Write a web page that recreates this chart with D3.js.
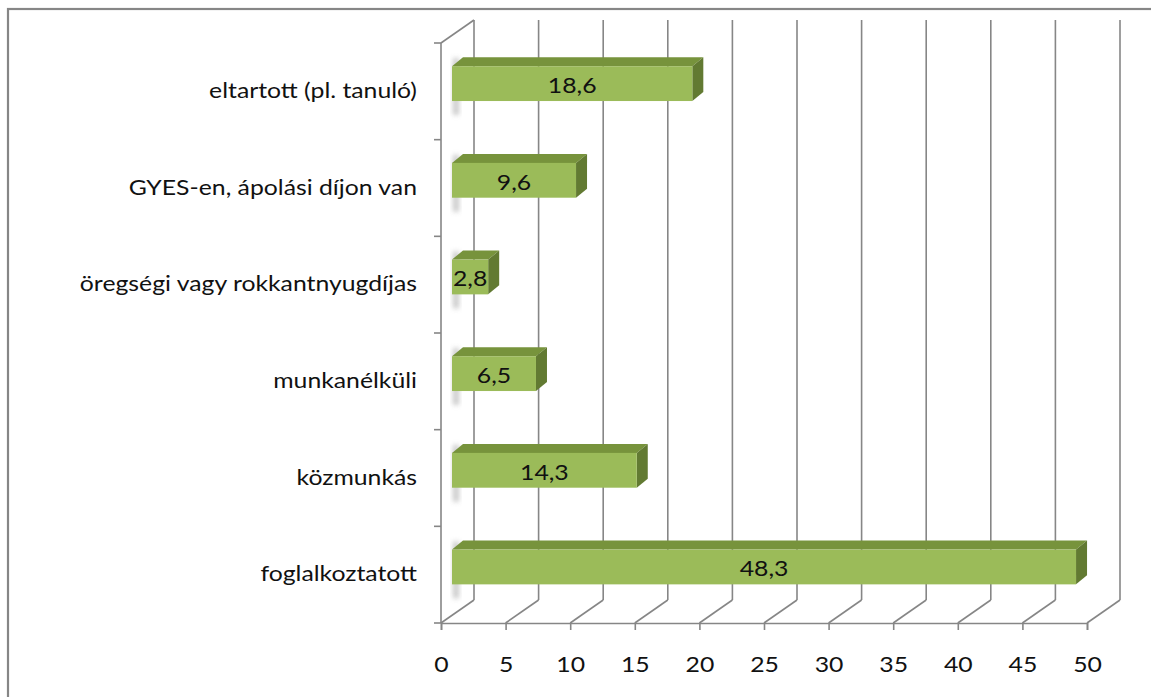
<!DOCTYPE html>
<html><head><meta charset="utf-8">
<script src="https://cdn.jsdelivr.net/npm/d3@7"></script>
<style>body{margin:0;background:#fff}svg{display:block}</style>
</head><body>
<script>
const categories = ["eltartott (pl. tanuló)","GYES-en, ápolási díjon van","öregségi vagy rokkantnyugdíjas","munkanélküli","közmunkás","foglalkoztatott"];
const values = [18.6, 9.6, 2.8, 6.5, 14.3, 48.3];
const valueLabels = ["18,6","9,6","2,8","6,5","14,3","48,3"];
const xTicks = [0,5,10,15,20,25,30,35,40,45,50];

const W=1151,H=697;
const svg=d3.select("body").append("svg").attr("width",W).attr("height",H);
const FONT="Lato, 'Open Sans', sans-serif";
const FS=21, SX="scale(1.18,1)";
const gray="#868686";
const TOP=43, BOT=623;

// border
svg.append("rect").attr("x",8).attr("y",9).attr("width",1160).attr("height",700)
  .attr("fill","#fff").attr("stroke",gray).attr("stroke-width",2.2);

const x=d3.scaleLinear().domain([0,50]).range([441,1087]);
const y=d3.scaleBand().domain(categories).range([TOP,BOT]).paddingInner(0.64).paddingOuter(0.32);
const DX=33, DY=-23;           // full depth offset
const bdx=11, bdy=-7.7;        // bar front offset (1/3 depth)
const sdx=11, sdy=-9;          // bar depth

const defs=svg.append("defs");
const f=defs.append("filter").attr("id","blur").attr("x","-50%").attr("y","-50%").attr("width","200%").attr("height","200%");
f.append("feGaussianBlur").attr("stdDeviation",2.5);

// back wall gridlines
svg.append("g").selectAll("line").data(xTicks).join("line")
  .attr("x1",d=>x(d)+DX).attr("x2",d=>x(d)+DX).attr("y1",TOP+DY).attr("y2",BOT+DY)
  .attr("stroke",gray).attr("stroke-width",1.6);
// floor diagonals
svg.append("g").selectAll("line").data(xTicks).join("line")
  .attr("x1",d=>x(d)).attr("x2",d=>x(d)+DX).attr("y1",BOT).attr("y2",BOT+DY)
  .attr("stroke",gray).attr("stroke-width",1.6);
// left wall top diagonal
svg.append("line").attr("x1",x(0)).attr("y1",TOP).attr("x2",x(0)+DX).attr("y2",TOP+DY)
  .attr("stroke",gray).attr("stroke-width",1.6);

// left axis line and boundary ticks
svg.append("line").attr("x1",x(0)).attr("x2",x(0)).attr("y1",TOP).attr("y2",BOT).attr("stroke",gray).attr("stroke-width",1.6);
const bounds=categories.map(c=>y(c)-y.step()*y.paddingInner()/2).concat([BOT]);
svg.append("g").selectAll("line").data(bounds).join("line")
  .attr("x1",x(0)-7).attr("x2",x(0)).attr("y1",d=>d).attr("y2",d=>d)
  .attr("stroke",gray).attr("stroke-width",1.6);

// shadows at bar left ends
svg.append("g").selectAll("rect").data(categories).join("rect")
  .attr("x",x(0)+bdx+1).attr("y",c=>y(c)+bdy-8).attr("width",6).attr("height",y.bandwidth()+22)
  .attr("fill","#bbb").attr("filter","url(#blur)").attr("opacity",0.8);

// bars
const bars=svg.append("g").selectAll("g").data(categories).join("g");
bars.append("path").attr("fill","#77933C").attr("d",(c,i)=>{
  const x0=x(0)+bdx, x1=x(values[i])+bdx, yt=y(c)+bdy;
  return `M${x0},${yt}L${x0+sdx},${yt+sdy}L${x1+sdx},${yt+sdy}L${x1},${yt}Z`;});
bars.append("path").attr("fill","#627A32").attr("d",(c,i)=>{
  const x1=x(values[i])+bdx, yt=y(c)+bdy, yb=yt+y.bandwidth();
  return `M${x1},${yt}L${x1+sdx},${yt+sdy}L${x1+sdx},${yb+sdy}L${x1},${yb}Z`;});
bars.append("rect").attr("fill","#9BBB59")
  .attr("x",x(0)+bdx).attr("y",c=>y(c)+bdy)
  .attr("width",(c,i)=>x(values[i])-x(0)).attr("height",y.bandwidth());
bars.append("text").attr("font-family",FONT).attr("font-size",FS).attr("fill","#111")
  .attr("text-anchor","middle").attr("dominant-baseline","central")
  .attr("transform",(c,i)=>`translate(${(x(0)+x(values[i]))/2+bdx},${y(c)+bdy+y.bandwidth()/2+1}) ${SX}`)
  .text((c,i)=>valueLabels[i]);

// x axis
const xa=svg.append("g").attr("transform",`translate(0,${BOT})`)
  .call(d3.axisBottom(x).tickValues(xTicks).tickSize(7).tickPadding(27).tickFormat(d3.format("d")));
xa.select(".domain").attr("stroke",gray).attr("stroke-width",1.6);
xa.selectAll(".tick line").attr("stroke",gray).attr("stroke-width",1.6);
xa.selectAll("text").attr("font-family",FONT).attr("font-size",FS).attr("fill","#111").attr("transform",SX);

// category labels
const ya=svg.append("g").attr("transform",`translate(${x(0)-24},0)`)
  .call(d3.axisLeft(y).tickSize(0).tickPadding(0));
ya.select(".domain").remove();
ya.selectAll("text").attr("font-family",FONT).attr("font-size",FS).attr("fill","#111").attr("transform",SX);
</script>
</body></html>
